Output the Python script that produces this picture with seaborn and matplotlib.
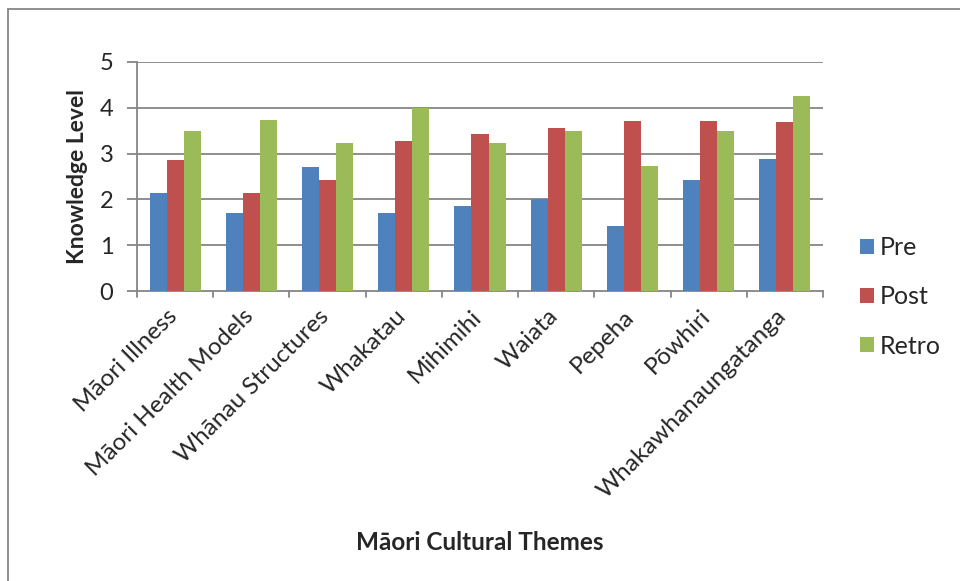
import matplotlib
matplotlib.use("Agg")
import matplotlib.pyplot as plt
import matplotlib.transforms as mtrans
import seaborn as sns
import pandas as pd
from matplotlib.patches import Rectangle

categories = ["Māori Illness", "Māori Health Models", "Whānau Structures", "Whakatau",
              "Mihimihi", "Waiata", "Pepeha", "Pōwhiri", "Whakawhanaungatanga"]
pre = [2.13, 1.70, 2.71, 1.70, 1.85, 2.00, 1.42, 2.42, 2.89]
post = [2.85, 2.13, 2.42, 3.28, 3.42, 3.56, 3.71, 3.71, 3.70]
retro = [3.50, 3.74, 3.24, 4.00, 3.24, 3.50, 2.74, 3.50, 4.25]
series = ["Pre", "Post", "Retro"]
colors = ["#4F81BD", "#C0504D", "#9BBB59"]
y_ticks = [0, 1, 2, 3, 4, 5]

rows = []
for name, vals in zip(series, [pre, post, retro]):
    for c, v in zip(categories, vals):
        rows.append({"Theme": c, "Series": name, "Value": v})
df = pd.DataFrame(rows)

sns.set_theme(style="white")
plt.rcParams["font.family"] = ["Lato", "DejaVu Sans"]

fig = plt.figure(figsize=(9.6, 5.81), dpi=100)
W, H = 960, 581
ax = fig.add_axes([137 / W, 1 - 291 / H, (823 - 137) / W, (291 - 62) / H])

sns.barplot(data=df, x="Theme", y="Value", hue="Series", order=categories,
            hue_order=series, palette=colors, width=0.67, gap=0, saturation=1,
            ax=ax, zorder=3, edgecolor="none")

grid_c = "#868686"
ax.set_ylim(0, 5)
ax.set_xlim(-0.5, len(categories) - 0.5)
ax.set_yticks(y_ticks)
ax.set_yticklabels([str(t) for t in y_ticks], fontsize=17)
for t in y_ticks[1:]:
    ax.axhline(t, color=grid_c, lw=1.3, zorder=1)
for s in ["top", "right"]:
    ax.spines[s].set_visible(False)
for s in ["left", "bottom"]:
    ax.spines[s].set_color(grid_c)
    ax.spines[s].set_linewidth(1.3)
ax.tick_params(axis="y", direction="out", length=7, color=grid_c, width=1.3, left=True, pad=10)
ax.set_xticks([i for i in range(len(categories))])
ax.set_xticklabels(categories, rotation=45, ha="right", rotation_mode="anchor", fontsize=17.5)
ax.tick_params(axis="x", length=0, pad=12)
offset = mtrans.ScaledTranslation(-9 / 100, 2 / 100, fig.dpi_scale_trans)
for lab in ax.get_xticklabels():
    lab.set_transform(lab.get_transform() + offset)
for i in range(len(categories) + 1):
    ax.plot([i - 0.5, i - 0.5], [0, -0.13], color=grid_c, lw=1.3, clip_on=False, zorder=2)

ax.set_xlabel("")
ax.set_ylabel("Knowledge Level", fontsize=16.5, fontweight="bold", labelpad=8)
fig.text(480 / W, 1 - 543 / H, "Māori Cultural Themes", ha="center", va="center",
         fontsize=17.5, fontweight="bold")

leg = ax.legend(loc="center left", bbox_to_anchor=(860 / W, 1 - 297 / H),
                bbox_transform=fig.transFigure, frameon=False, fontsize=18,
                borderpad=0, borderaxespad=0,
                handlelength=0.55, handleheight=0.55, labelspacing=1.05, handletextpad=0.25)

fig.patches.append(Rectangle((8 / W, -0.1), 1.2, 1.1 - 9 / H, transform=fig.transFigure,
                             fill=False, edgecolor="#868686", lw=1.3))

fig.savefig("out.png", dpi=100)
